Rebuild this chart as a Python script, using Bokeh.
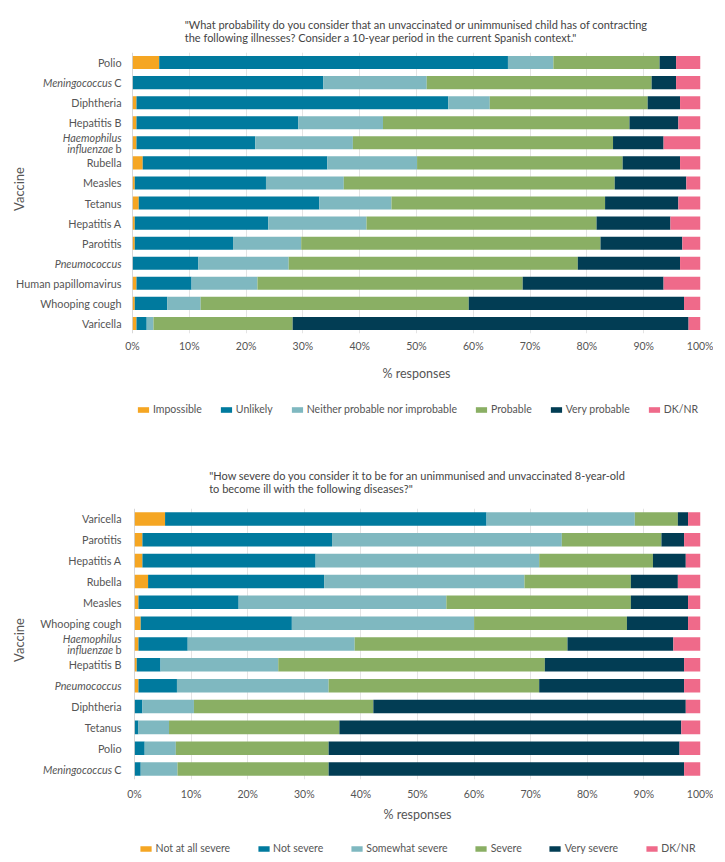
import math
from bokeh.plotting import figure
from bokeh.models import (Range1d, FixedTicker, PrintfTickFormatter, Legend, LegendItem,
                          ColumnDataSource, Title, Span)
from bokeh.layouts import column, row
from bokeh.core.properties import value
from bokeh.embed import file_html
from bokeh.resources import INLINE

FONT = "Lato"
TEXT = "#555555"
COLORS = ["#f5a623", "#007a9e", "#7fb8c0", "#8aaf64", "#023d54", "#ef6a8a"]

# ---------------- data: probability of contracting ----------------
prob_title = ('"What probability do you consider that an unvaccinated or unimmunised child has of contracting\n'
              'the following illnesses? Consider a 10-year period in the current Spanish context."')
prob_vaccines = ["Polio", "Meningococcus C", "Diphtheria", "Hepatitis B", "Haemophilus influenzae b",
                 "Rubella", "Measles", "Tetanus", "Hepatitis A", "Parotitis", "Pneumococcus",
                 "Human papillomavirus", "Whooping cough", "Varicella"]
prob_labels = ["Impossible", "Unlikely", "Neither probable nor improbable", "Probable",
               "Very probable", "DK/NR"]
prob_impossible = [4.7, 0, 0.7, 0.7, 0.7, 1.8, 0.4, 1.1, 0.4, 0.4, 0, 0.7, 0.4, 0.7]
prob_unlikely = [61.4, 33.6, 54.9, 28.5, 20.9, 32.5, 23.1, 31.8, 23.5, 17.3, 11.6, 9.7, 5.7, 1.8]
prob_neither = [8.0, 18.2, 7.3, 14.9, 17.2, 15.8, 13.7, 12.7, 17.3, 12.0, 15.9, 11.6, 5.9, 1.2]
prob_probable = [18.7, 39.6, 27.8, 43.4, 45.8, 36.2, 47.7, 37.6, 40.5, 52.7, 50.9, 46.7, 47.2, 24.5]
prob_very = [2.9, 4.3, 5.7, 8.6, 8.9, 10.1, 12.6, 12.9, 13.0, 14.4, 18.0, 24.8, 37.9, 69.7]
prob_dknr = [4.3, 4.3, 3.6, 3.9, 6.5, 3.6, 2.5, 3.9, 5.3, 3.2, 3.6, 6.5, 2.9, 2.1]

# ---------------- data: severity ----------------
sev_title = ('"How severe do you consider it to be for an unimmunised and unvaccinated 8-year-old\n'
             'to become ill with the following diseases?"')
sev_vaccines = ["Varicella", "Parotitis", "Hepatitis A", "Rubella", "Measles", "Whooping cough",
                "Haemophilus influenzae b", "Hepatitis B", "Pneumococcus", "Diphtheria", "Tetanus",
                "Polio", "Meningococcus C"]
sev_labels = ["Not at all severe", "Not severe", "Somewhat severe", "Severe", "Very severe", "DK/NR"]
sev_not_at_all = [5.4, 1.4, 1.4, 2.4, 0.7, 1.1, 0.7, 0.4, 0.7, 0, 0, 0, 0]
sev_not_severe = [56.8, 33.5, 30.6, 31.1, 17.7, 26.7, 8.7, 4.2, 6.8, 1.4, 0.7, 1.8, 1.1]
sev_somewhat = [26.2, 40.6, 39.5, 35.4, 36.7, 32.2, 29.5, 20.8, 26.8, 9.1, 5.4, 5.5, 6.5]
sev_severe = [7.6, 17.6, 20.1, 18.8, 32.6, 27.0, 37.6, 47.1, 37.2, 31.7, 30.1, 27.0, 26.7]
sev_very = [1.8, 4.0, 5.8, 8.3, 10.1, 10.8, 18.7, 24.6, 25.6, 55.2, 60.4, 62.0, 62.8]
sev_dknr = [2.2, 2.9, 2.6, 4.0, 2.2, 2.2, 4.8, 2.9, 2.9, 2.6, 3.4, 3.7, 2.9]

x_ticks = [0, 10, 20, 30, 40, 50, 60, 70, 80, 90, 100]

# names partly in italics: list of lines, each line = (italic part, regular part)
special = {
    "Meningococcus C": [("Meningococcus", "C")],
    "Pneumococcus": [("Pneumococcus", "")],
    "Haemophilus influenzae b": [("Haemophilus", ""), ("influenzae", "b")],
}
REG_W = {"C": 9.4, "b": 8.4}
LABEL_SIZE = "10.8px"


def label_figure(cats, height, b_top, b_bottom, width, lab_off, vac_x):
    n = len(cats)
    ys = list(range(n - 1, -1, -1))
    xs, yy, tt, xo, yo, st = [], [], [], [], [], []
    for y, c in zip(ys, cats):
        if c not in special:
            xs.append(1); yy.append(y); tt.append(c); xo.append(-lab_off); yo.append(0)
            st.append("normal")
            continue
        lines = special[c]
        nl = len(lines)
        for li, (ital, reg) in enumerate(lines):
            off = -(nl - 1) * 5.5 + li * 11.0
            rw = REG_W.get(reg, 0.0)
            xs.append(1); yy.append(y); tt.append(ital); xo.append(-(lab_off + rw)); yo.append(off)
            st.append("italic")
            if reg:
                xs.append(1); yy.append(y); tt.append(reg); xo.append(-lab_off); yo.append(off)
                st.append("normal")
    src = ColumnDataSource(dict(x=xs, y=yy, text=tt, xo=xo, yo=yo, st=st))
    lf = figure(width=width, height=height, x_range=Range1d(0, 1), y_range=Range1d(-0.5, n - 0.5),
                output_backend="svg", toolbar_location=None, min_border_left=0,
                min_border_right=0, min_border_top=b_top, min_border_bottom=b_bottom)
    lf.xaxis.visible = False
    lf.yaxis.visible = False
    lf.grid.visible = False
    lf.outline_line_color = None
    lf.text(x="x", y="y", text="text", x_offset="xo", y_offset="yo", text_font_style="st",
            source=src, text_align="right", text_baseline="middle", text_font=value(FONT),
            text_font_size=LABEL_SIZE, text_color=TEXT)
    lf.text(x=[0], y=[(n - 1) / 2.0], text=["Vaccine"], angle=math.pi / 2, x_offset=vac_x,
            y_offset=-4, text_align="center", text_baseline="middle", text_font=value(FONT),
            text_font_size="13px", text_color=TEXT)
    return lf


def make_chart(title, cats, series, height, b_left, b_top, b_bottom, width,
               title_standoff, tick_standoff, xlab_standoff):
    n = len(cats)
    ys = list(range(n - 1, -1, -1))
    keys = ["s%d" % i for i in range(len(series))]
    data = {"y": ys}
    for k, s in zip(keys, series):
        data[k] = s
    src = ColumnDataSource(data)

    p = figure(width=width, height=height, x_range=Range1d(0, 100),
               y_range=Range1d(-0.5, n - 0.5), output_backend="svg", toolbar_location=None,
               min_border_left=b_left, min_border_right=13,
               min_border_top=b_top, min_border_bottom=b_bottom)
    p.title = Title(text=title, align="center", text_font=FONT, text_font_size="11px",
                    text_font_style="normal", text_color="#444444", standoff=title_standoff)
    p.hbar_stack(keys, y="y", height=0.65, color=COLORS, source=src, line_color=None)

    p.outline_line_color = None
    p.xgrid.ticker = FixedTicker(ticks=x_ticks)
    p.xgrid.grid_line_color = "#e4e4e4"
    p.ygrid.grid_line_color = None
    p.yaxis.visible = False
    p.add_layout(Span(location=0, dimension="height", line_color="#b0b0b0", line_width=1))

    xa = p.xaxis[0]
    xa.ticker = FixedTicker(ticks=x_ticks)
    xa.formatter = PrintfTickFormatter(format="%d%%")
    xa.axis_line_color = None
    xa.major_tick_line_color = None
    xa.minor_tick_line_color = None
    xa.major_tick_out = 0
    xa.major_tick_in = 0
    xa.minor_tick_out = 0
    xa.major_label_standoff = tick_standoff
    xa.major_label_text_font = FONT
    xa.major_label_text_font_size = "10.5px"
    xa.major_label_text_color = TEXT
    xa.axis_label = "% responses"
    xa.axis_label_text_font = FONT
    xa.axis_label_text_font_size = "12.5px"
    xa.axis_label_text_font_style = "normal"
    xa.axis_label_text_color = TEXT
    xa.axis_label_standoff = xlab_standoff
    return p


def legend_figure(labels, width, height, b_left, b_top, b_bottom, spacing):
    lf = figure(width=width, height=height, x_range=Range1d(0, 1), y_range=Range1d(0, 1),
                output_backend="svg", toolbar_location=None, min_border_left=b_left,
                min_border_right=13, min_border_top=b_top, min_border_bottom=b_bottom)
    lf.xaxis.visible = False
    lf.yaxis.visible = False
    lf.grid.visible = False
    lf.outline_line_color = None
    items = []
    for lab, col in zip(labels, COLORS):
        # zero-length bar: only serves as the legend swatch
        r = lf.hbar(y=[0], left=[0], right=[0], height=0.5, fill_color=col, line_color=None)
        items.append(LegendItem(label=lab, renderers=[r]))
    legend = Legend(items=items, orientation="horizontal", location="center", spacing=spacing,
                    glyph_width=14, glyph_height=7, label_standoff=3, label_height=12,
                    label_text_font=FONT, label_text_font_size="10.5px", label_text_color=TEXT,
                    border_line_color=None, background_fill_alpha=0, padding=0, margin=0)
    lf.add_layout(legend)
    return lf


# top block
lab1 = label_figure(prob_vaccines, height=388, b_top=52, b_bottom=55, width=122, lab_off=1,
                    vac_x=18)
p1 = make_chart(prob_title, prob_vaccines,
                [prob_impossible, prob_unlikely, prob_neither, prob_probable, prob_very, prob_dknr],
                height=388, b_left=10, b_top=52, b_bottom=55, width=591,
                title_standoff=17, tick_standoff=6, xlab_standoff=11)
leg1 = legend_figure(prob_labels, width=713, height=42, b_left=132, b_top=14, b_bottom=14,
                     spacing=17)
# bottom block
lab2 = label_figure(sev_vaccines, height=395, b_top=78, b_bottom=46, width=122, lab_off=1,
                    vac_x=18)
p2 = make_chart(sev_title, sev_vaccines,
                [sev_not_at_all, sev_not_severe, sev_somewhat, sev_severe, sev_very, sev_dknr],
                height=395, b_left=12, b_top=78, b_bottom=46, width=591,
                title_standoff=28, tick_standoff=8, xlab_standoff=4)
leg2 = legend_figure(sev_labels, width=713, height=30, b_left=134, b_top=16, b_bottom=0,
                     spacing=26)

layout = column(row(lab1, p1, spacing=0), leg1, row(lab2, p2, spacing=0), leg2, spacing=0)
open("out.html", "w").write(file_html(layout, INLINE))
